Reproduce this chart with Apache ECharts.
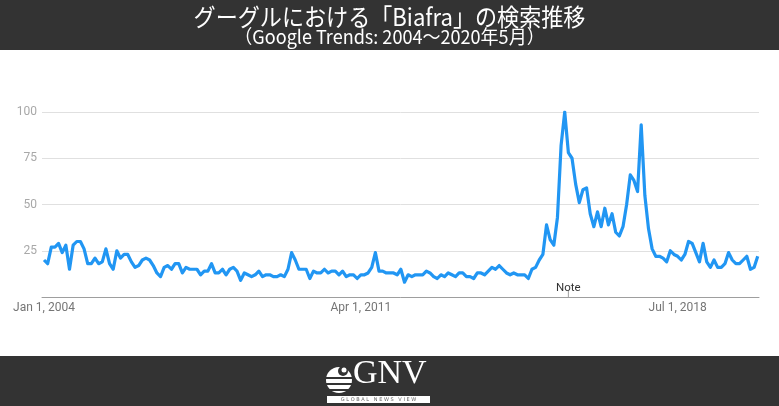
<!DOCTYPE html>
<html>
<head>
<meta charset="utf-8">
<script src="https://cdn.jsdelivr.net/npm/echarts@6/dist/echarts.min.js"></script>
<style>
  html, body { margin: 0; padding: 0; background: #fff; }
  #chart { width: 779px; height: 406px; }
</style>
</head>
<body>
<div id="chart"></div>
<script>
// Monthly Google Trends interest for "Biafra", Jan 2004 – May 2020
const values = [
  20,18,27,27,29,24,28,15,28,30,
  30,26,18,18,21,18,19,26,18,15,
  25,21,23,23,19,16,17,20,21,20,
  17,13,11,16,17,15,18,18,13,16,
  15,15,15,12,14,14,18,13,13,15,
  12,15,16,14,9,13,12,11,12,14,
  11,12,12,11,11,12,11,15,24,20,
  15,15,15,10,14,13,13,15,13,14,
  14,12,14,11,12,12,10,12,12,13,
  16,24,14,14,13,13,13,12,15,8,
  12,11,12,12,12,14,13,11,10,12,
  11,13,12,11,13,13,11,11,10,13,
  13,12,14,16,15,17,15,13,12,13,
  12,12,12,10,15,16,20,23,39,31,
  28,43,82,100,78,75,61,51,58,59,
  45,38,46,38,48,39,45,35,33,38,
  50,66,63,57,93,55,37,26,22,22,
  21,19,25,23,22,20,23,30,29,24,
  19,29,19,16,20,16,16,18,24,20,
  18,18,20,22,15,16,22
];
const xTickIndex = [0, 87, 174];
const xTickLabels = ["Jan 1, 2004", "Apr 1, 2011", "Jul 1, 2018"];
const yTicks = [25, 50, 75, 100];
const noteIndex = 144;
const noteLabel = "Note";
const titleText = "グーグルにおける「Biafra」の検索推移";
const subtitleText = "（Google Trends: 2004～2020年5月）";

const seriesData = values.map((v, i) => [i, v]);

const chart = echarts.init(document.getElementById('chart'), null, { renderer: 'canvas' });
chart.setOption({
  animation: false,
  backgroundColor: '#ffffff',
  grid: { left: 42, right: 20, top: 112, bottom: 109, containLabel: false },
  xAxis: {
    type: 'value',
    min: -0.55,
    max: values.length - 1 + 0.35,
    splitLine: { show: false },
    axisLine: { show: true, lineStyle: { color: '#9e9e9e', width: 1 } },
    axisTick: { show: false },
    axisLabel: {
      customValues: xTickIndex,
      formatter: v => xTickLabels[xTickIndex.indexOf(Math.round(v))] || '',
      color: '#757575',
      fontFamily: 'Roboto',
      fontSize: 12,
      margin: 5
    }
  },
  yAxis: {
    type: 'value',
    min: 0,
    max: 100,
    interval: 25,
    axisLine: { show: false },
    axisTick: { show: false },
    splitLine: { lineStyle: { color: '#e0e0e0', width: 1 } },
    axisLabel: {
      formatter: v => (yTicks.indexOf(v) >= 0 ? String(v) : ''),
      color: '#a8a8a8',
      fontFamily: 'Roboto',
      fontSize: 12,
      margin: 5
    }
  },
  series: [{
    type: 'line',
    data: seriesData,
    showSymbol: false,
    symbol: 'none',
    lineStyle: { color: '#2196f3', width: 3.2, join: 'round' },
    itemStyle: { color: '#2196f3' },
    markPoint: {
      silent: true,
      data: [{
        coord: [noteIndex, 0],
        symbol: 'rect',
        symbolSize: [1, 6],
        symbolOffset: [0, -3],
        itemStyle: { color: '#9e9e9e' },
        label: {
          show: true,
          formatter: noteLabel,
          position: 'top',
          distance: -3,
          color: '#333333',
          fontFamily: 'Roboto',
          fontSize: 11.5
        }
      }]
    }
  }],
  graphic: [
    { type: 'rect', left: 0, top: 0, shape: { width: 779, height: 50 }, style: { fill: '#333333' }, silent: true },
    { type: 'text', x: 389.5, y: 17, scaleX: 0.92,
      style: { text: titleText, fill: '#ffffff', font: '24px "Noto Sans CJK JP"', textAlign: 'center', textVerticalAlign: 'middle' } },
    { type: 'text', x: 389.5, y: 37, scaleX: 0.95,
      style: { text: subtitleText, fill: '#ffffff', font: '19px "Noto Sans CJK JP"', textAlign: 'center', textVerticalAlign: 'middle' } },
    { type: 'rect', left: 0, top: 356, shape: { width: 779, height: 50 }, style: { fill: '#333333' }, silent: true },
    // globe logo
    { type: 'circle', shape: { cx: 339, cy: 380, r: 13 }, style: { fill: '#ffffff' } },
    { type: 'rect', shape: { x: 324, y: 377, width: 30, height: 2 }, style: { fill: '#333333' } },
    { type: 'rect', shape: { x: 324, y: 383, width: 30, height: 2 }, style: { fill: '#333333' } },
    { type: 'rect', shape: { x: 324, y: 389, width: 30, height: 2 }, style: { fill: '#333333' } },
    { type: 'circle', shape: { cx: 343, cy: 371, r: 5 }, style: { fill: '#333333' } },
    { type: 'circle', shape: { cx: 344, cy: 370, r: 2.5 }, style: { fill: '#ffffff' } },
    { type: 'text', x: 353, y: 391,
      style: { text: 'GNV', fill: '#ffffff', font: '34px "Liberation Serif"', textAlign: 'left', textVerticalAlign: 'bottom' } },
    { type: 'rect', shape: { x: 327, y: 396, width: 103, height: 7 }, style: { fill: '#ffffff' } },
    { type: 'text', x: 378.5, y: 399.5,
      style: { text: 'G L O B A L   N E W S   V I E W', fill: '#666666', font: '5px "DejaVu Sans"', textAlign: 'center', textVerticalAlign: 'middle' } }
  ]
});
</script>
</body>
</html>
